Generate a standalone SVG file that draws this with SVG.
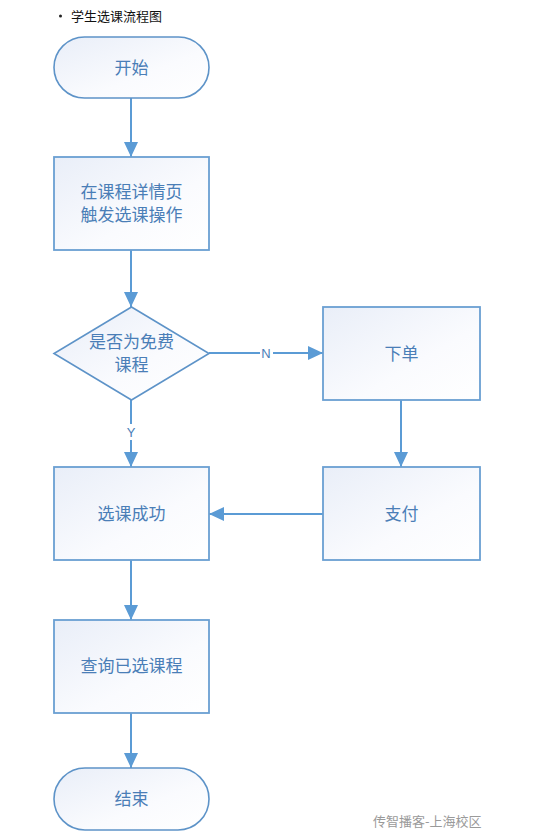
<svg xmlns="http://www.w3.org/2000/svg" width="542" height="836" viewBox="0 0 542 836">
<defs>
<linearGradient id="g" x1="0" y1="0" x2="1" y2="1">
<stop offset="0" stop-color="#e9eef8"/>
<stop offset="0.6" stop-color="#fafbfe"/>
<stop offset="1" stop-color="#ffffff"/>
</linearGradient>
<marker id="ah" markerWidth="16" markerHeight="16" viewBox="0 0 16 16" refX="15" refY="8" orient="auto" markerUnits="userSpaceOnUse">
<path d="M0,1 L15,8 L0,15 Z" fill="#5b9bd5"/>
</marker>
<style>
.n{fill:url(#g);stroke:#5d93c8;stroke-width:1.6}
.r{fill:url(#g);stroke:#6a9fd2;stroke-width:1.8}
.t{font-family:"Noto Sans CJK SC","Noto Sans",sans-serif;font-size:17px;fill:#4a7eb7;text-anchor:middle}
.c{fill:none;stroke:#5b9bd5;stroke-width:2}
.l{font-family:"Liberation Sans",Arial,sans-serif;font-size:13px;fill:#4a7eb7;text-anchor:middle}
</style>
</defs>
<rect width="542" height="836" fill="#ffffff"/>
<circle cx="60.5" cy="16" r="1.5" fill="#222"/>
<text x="71" y="20.5" font-family="'Noto Sans CJK SC',sans-serif" font-size="13" fill="#111">学生选课流程图</text>
<g id="connectors">
<line class="c" x1="131" y1="98" x2="131" y2="157" marker-end="url(#ah)"/>
<line class="c" x1="131" y1="250" x2="131" y2="307" marker-end="url(#ah)"/>
<line class="c" x1="209" y1="353" x2="260" y2="353"/>
<line class="c" x1="273" y1="353" x2="323" y2="353" marker-end="url(#ah)"/>
<text class="l" x="266" y="358">N</text>
<line class="c" x1="131" y1="400" x2="131" y2="424"/>
<line class="c" x1="131" y1="440" x2="131" y2="467" marker-end="url(#ah)"/>
<text class="l" x="131" y="437">Y</text>
<line class="c" x1="401" y1="400" x2="401" y2="467" marker-end="url(#ah)"/>
<line class="c" x1="323" y1="514" x2="209" y2="514" marker-end="url(#ah)"/>
<line class="c" x1="131" y1="560" x2="131" y2="620" marker-end="url(#ah)"/>
<line class="c" x1="131" y1="713" x2="131" y2="768" marker-end="url(#ah)"/>
</g>
<g id="start">
<rect class="n" x="54" y="37" width="155" height="61" rx="30.5"/>
<text class="t" x="131.5" y="73.5">开始</text>
</g>
<g id="detail">
<rect class="r" x="54" y="157" width="155" height="93"/>
<text class="t" x="131.5" y="198">在课程详情页</text>
<text class="t" x="131.5" y="221">触发选课操作</text>
</g>
<g id="decision">
<polygon class="n" points="131.5,307 209,353.5 131.5,400 54,353.5"/>
<text class="t" x="131.5" y="348">是否为免费</text>
<text class="t" x="131.5" y="371">课程</text>
</g>
<g id="order">
<rect class="r" x="323" y="307" width="157" height="93"/>
<text class="t" x="401.5" y="359.5">下单</text>
</g>
<g id="pay">
<rect class="r" x="323" y="467" width="157" height="93"/>
<text class="t" x="401.5" y="519.5">支付</text>
</g>
<g id="success">
<rect class="r" x="54" y="467" width="155" height="93"/>
<text class="t" x="131.5" y="519.5">选课成功</text>
</g>
<g id="query">
<rect class="r" x="54" y="620" width="155" height="93"/>
<text class="t" x="131.5" y="672">查询已选课程</text>
</g>
<g id="end">
<rect class="n" x="54" y="768" width="155" height="62" rx="31"/>
<text class="t" x="131.5" y="805">结束</text>
</g>
<text x="373" y="826" font-family="'Noto Sans CJK SC',sans-serif" font-size="13" fill="#9a9a9a">传智播客-上海校区</text>
</svg>
